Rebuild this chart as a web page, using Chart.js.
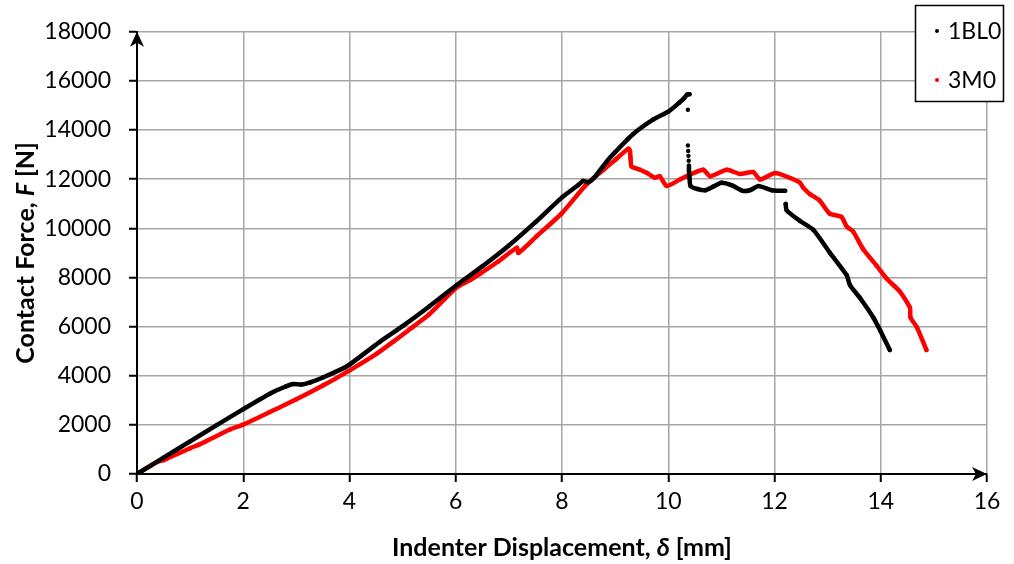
<!DOCTYPE html>
<html>
<head>
<meta charset="utf-8">
<script src="https://cdn.jsdelivr.net/npm/chart.js@4"></script>
<style>
html,body{margin:0;padding:0;background:#fff;}
#wrap{width:1014px;height:564px;position:relative;}
</style>
</head>
<body>
<div id="wrap"><canvas id="c" width="1014" height="564"></canvas></div>
<script>
// ---- Data ----
const seriesNames = ['1BL0', '3M0'];
const seriesColors = ['#000000', '#ff0000'];

// 1BL0 (null = break between isolated points)
const blackX = [0, 0.5, 1.0, 1.5, 2.0, 2.5, 2.8, 2.94, 3.1, 3.26, 3.5, 3.9, 4.0, 4.57, 5.0, 5.5, 6.02, 6.5, 7.0, 7.5, 8.0, 8.3, 8.4, 8.5, 8.6, 8.84, 9.0, 9.34, 9.72, 10.0, 10.2, 10.3, 10.35, 10.4,
  10.36, 10.37, 10.37, 10.37, 10.37, 10.375, 10.375, 10.38, 10.38, 10.385, 10.385, 10.39, 10.39, 10.4, 10.42, 10.55, 10.7, 10.85, 11.0, 11.2, 11.4, 11.55, 11.7, 11.95, 12.2,
  12.2, 12.21, 12.23, 12.48, 12.73, 13.04, 13.36, 13.42, 13.61, 13.86, 13.99, 14.17];
const blackY = [0, 665, 1330, 1990, 2640, 3270, 3560, 3660, 3640, 3727, 3930, 4320, 4450, 5380, 6020, 6820, 7692, 8450, 9300, 10250, 11260, 11750, 11930, 11880, 12050, 12716, 13100, 13838, 14433, 14750, 15100, 15300, 15440, 15460,
  null, 14830, null, 13370, null, 13150, null, 12950, null, 12750, null, 12550, 12350, 12054, 11724, 11600, 11550, 11700, 11855, 11750, 11525, 11560, 11724, 11550, 11525,
  null, 10995, 10733, 10300, 9940, 9012, 8089, 7692, 7165, 6372, 5840, 5047];

// 3M0
const redX = [0, 0.3, 0.46, 0.5, 0.56, 1.0, 1.19, 1.75, 2.0, 2.5, 3.0, 3.5, 3.98, 4.5, 4.82, 5.2, 5.5, 6.02, 6.27, 6.46, 6.8, 7.15, 7.18, 7.52, 7.99, 8.46, 8.78, 9.0, 9.25, 9.28, 9.29, 9.31, 9.47, 9.6, 9.75, 9.84, 9.97, 10.22, 10.41, 10.66, 10.79, 11.1, 11.35, 11.6, 11.73, 12.01, 12.29, 12.48, 12.54, 12.67, 12.85, 13.04, 13.26, 13.36, 13.48, 13.67, 13.92, 14.11, 14.36, 14.55, 14.56, 14.68, 14.86];
const redY = [0, 400, 555, 560, 622, 1050, 1217, 1812, 2010, 2520, 3040, 3600, 4190, 4880, 5380, 6000, 6500, 7600, 7890, 8155, 8650, 9211, 9000, 9675, 10598, 11788, 12383, 12785, 13243, 13150, 12850, 12517, 12383, 12250, 12054, 12120, 11724, 11986, 12185, 12383, 12120, 12383, 12212, 12291, 11986, 12252, 12054, 11855, 11657, 11390, 11130, 10598, 10468, 10071, 9873, 9147, 8485, 7958, 7426, 6768, 6372, 5975, 5047];

const xTickValues = [0, 2, 4, 6, 8, 10, 12, 14, 16];
const yTickValues = [0, 2000, 4000, 6000, 8000, 10000, 12000, 14000, 16000, 18000];
const xTitleParts = ['Indenter Displacement, ', 'δ', ' [mm]'];
const yTitleParts = ['Contact Force, ', 'F', ' [N]'];

// ---- Build ----
const FONT = 'Lato, "Open Sans", sans-serif';
function pts(xs, ys) { return xs.map((x, i) => ({ x: x, y: ys[i] })); }

const datasets = [
  { label: seriesNames[0], data: pts(blackX, blackY) },
  { label: seriesNames[1], data: pts(redX, redY) }
].map((d, i) => Object.assign(d, {
  showLine: true,
  spanGaps: false,
  borderColor: seriesColors[i],
  backgroundColor: seriesColors[i],
  pointBackgroundColor: seriesColors[i],
  pointBorderColor: seriesColors[i],
  borderWidth: 4.5,
  borderJoinStyle: 'round',
  borderCapStyle: 'round',
  pointRadius: 2.2,
  pointBorderWidth: 0,
  pointHoverRadius: 2.2,
  tension: 0.2
}));

function drawParts(ctx, parts, size) {
  const fonts = parts.map((p, i) => (i === 1 ? 'italic bold ' : 'bold ') + size + 'px ' + FONT);
  const widths = parts.map((p, i) => { ctx.font = fonts[i]; return ctx.measureText(p).width; });
  const total = widths.reduce((a, b) => a + b, 0);
  let x = -total / 2;
  parts.forEach((p, i) => {
    ctx.font = fonts[i];
    ctx.fillText(p, x, 0);
    x += widths[i];
  });
}

function arrowHead(ctx, x, y, dir) {
  ctx.save();
  ctx.translate(x, y);
  if (dir === 'right') ctx.rotate(Math.PI / 2);
  ctx.beginPath();
  ctx.moveTo(0, 0);
  ctx.lineTo(7, 15);
  ctx.lineTo(0, 11);
  ctx.lineTo(-7, 15);
  ctx.closePath();
  ctx.fillStyle = '#000';
  ctx.fill();
  ctx.restore();
}

const decor = {
  id: 'decor',
  afterDraw(chart) {
    const ctx = chart.ctx;
    const a = chart.chartArea;
    ctx.save();
    arrowHead(ctx, a.left, a.top, 'up');
    arrowHead(ctx, a.right, a.bottom, 'right');
    ctx.fillStyle = '#000';
    ctx.textBaseline = 'middle';
    ctx.textAlign = 'left';
    ctx.save();
    ctx.translate((a.left + a.right) / 2, 548);
    drawParts(ctx, xTitleParts, 25);
    ctx.restore();
    ctx.save();
    ctx.translate(26, (a.top + a.bottom) / 2);
    ctx.rotate(-Math.PI / 2);
    drawParts(ctx, yTitleParts, 25);
    ctx.restore();
    // legend
    const lx = 915, ly = 5, lw = 88, lh = 96;
    ctx.fillStyle = '#fff';
    ctx.fillRect(lx, ly, lw, lh);
    ctx.strokeStyle = '#000';
    ctx.lineWidth = 1.5;
    ctx.strokeRect(lx + 0.5, ly + 0.5, lw, lh);
    ctx.font = '23px ' + FONT;
    ctx.textBaseline = 'middle';
    chart.data.datasets.forEach((ds, i) => {
      const cy = 31 + i * 49;
      ctx.fillStyle = ds.borderColor;
      ctx.beginPath();
      ctx.arc(937, cy, 2, 0, Math.PI * 2);
      ctx.fill();
      ctx.fillStyle = '#000';
      ctx.fillText(ds.label, 948, cy + 1);
    });
    ctx.restore();
  }
};

new Chart(document.getElementById('c'), {
  type: 'scatter',
  data: { datasets: datasets },
  plugins: [decor],
  options: {
    responsive: false,
    animation: false,
    events: [],
    layout: { padding: { top: 20, right: 27, left: 0, bottom: 0 } },
    plugins: { legend: { display: false }, tooltip: { enabled: false } },
    scales: {
      x: {
        type: 'linear', min: 0, max: 16,
        afterBuildTicks: s => { s.ticks = xTickValues.map(v => ({ value: v })); },
        afterFit: s => { s.height = 90; },
        ticks: { color: '#000', font: { family: FONT, size: 23 }, padding: 6, maxRotation: 0 },
        grid: { color: '#a6a6a6', lineWidth: 1.5, tickLength: 8, tickColor: '#000', tickWidth: 2 },
        border: { color: '#000', width: 2 }
      },
      y: {
        type: 'linear', min: 0, max: 18000,
        afterBuildTicks: s => { s.ticks = yTickValues.map(v => ({ value: v })); },
        afterFit: s => { s.width = 137; },
        ticks: { color: '#000', font: { family: FONT, size: 23 }, padding: 18, callback: v => String(v) },
        grid: { color: '#a6a6a6', lineWidth: 1.5, tickLength: 8, tickColor: '#000', tickWidth: 2 },
        border: { color: '#000', width: 2 }
      }
    }
  }
});
</script>
</body>
</html>
